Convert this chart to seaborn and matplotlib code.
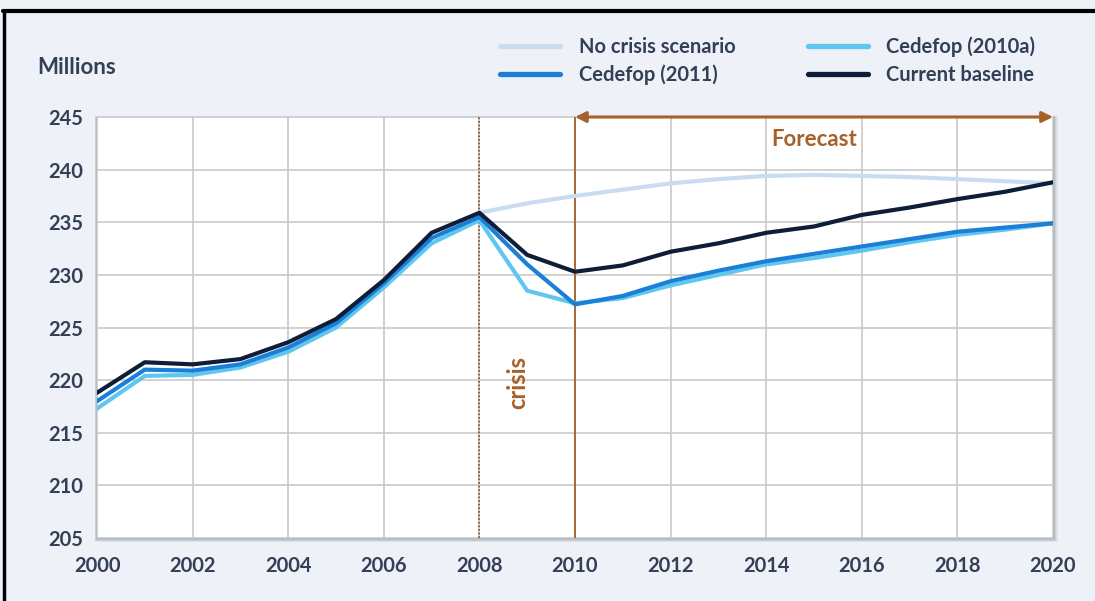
import numpy as np
import pandas as pd
import matplotlib
matplotlib.use("Agg")
import matplotlib.pyplot as plt
import seaborn as sns
from matplotlib.patches import Rectangle
from matplotlib.lines import Line2D

years = list(range(2000, 2021))
no_crisis = [None]*8 + [235.9, 236.8, 237.5, 238.1, 238.7, 239.1, 239.4, 239.5, 239.4, 239.3, 239.1, 238.9, 238.7]
cedefop_2010a = [217.3, 220.4, 220.5, 221.2, 222.7, 225.0, 228.8, 233.0, 235.2, 228.5, 227.3,
                 227.8, 229.0, 230.0, 231.0, 231.6, 232.3, 233.1, 233.8, 234.3, 234.9]
cedefop_2011 = [218.0, 221.0, 220.9, 221.5, 223.1, 225.4, 229.2, 233.5, 235.5, 231.0, 227.2,
                228.0, 229.4, 230.4, 231.3, 232.0, 232.7, 233.4, 234.1, 234.5, 234.9]
current_baseline = [218.8, 221.7, 221.5, 222.0, 223.6, 225.8, 229.5, 234.0, 235.9, 231.9, 230.3,
                    230.9, 232.2, 233.0, 234.0, 234.6, 235.7, 236.4, 237.2, 237.9, 238.8]
series_names = ["No crisis scenario", "Cedefop (2010a)", "Cedefop (2011)", "Current baseline"]
series_colors = ["#c9dcf0", "#5fc6ef", "#1b7fd8", "#0e1d38"]
x_ticks = list(range(2000, 2021, 2))
y_ticks = list(range(205, 246, 5))

rows = []
for name, vals in zip(series_names, [no_crisis, cedefop_2010a, cedefop_2011, current_baseline]):
    for y, v in zip(years, vals):
        if v is not None:
            rows.append({"year": y, "value": v, "series": name})
df = pd.DataFrame(rows)

sns.set_theme(style="white")
plt.rcParams['font.family'] = ['Lato', 'DejaVu Sans']
W = "bold"
txt = "#333f55"
bg = "#eef2f8"
fig = plt.figure(figsize=(10.95, 6.01), dpi=100, facecolor=bg)
ax = fig.add_axes([0.0886, 0.1048, 0.873, 0.7005])
ax.set_facecolor("white")

# soft shadow behind axes
for i, a in enumerate([0.25, 0.35, 0.5]):
    d = 0.004 - i * 0.0012
    fig.patches.append(Rectangle((0.0886 - d * 0.5, 0.1048 - d * 1.6), 0.873 + d * 1.6, 0.7005 + d * 2.0,
                                 transform=fig.transFigure, facecolor="#a9adb5",
                                 edgecolor="none", zorder=-5, alpha=a))
# black frame top and left
fig.add_artist(Line2D([0.003, 1.0], [0.982, 0.982], color="black", lw=3, transform=fig.transFigure))
fig.add_artist(Line2D([0.004, 0.004], [0.0, 0.982], color="black", lw=2.5, transform=fig.transFigure))

palette = dict(zip(series_names, series_colors))
sns.lineplot(data=df, x="year", y="value", hue="series", hue_order=series_names,
             palette=palette, linewidth=3.0, ax=ax, legend=False, zorder=3)

ax.set_xlim(2000, 2020)
ax.set_ylim(205, 245)
ax.set_xticks(x_ticks)
ax.set_yticks(y_ticks)
ax.grid(True, color="#c9c9c9", linewidth=1.2)
ax.set_axisbelow(True)
for s in ax.spines.values():
    s.set_visible(False)
ax.tick_params(axis="x", length=0, labelsize=14.5, labelcolor=txt, pad=13)
ax.tick_params(axis="y", length=0, labelsize=14.5, labelcolor=txt, pad=10)
for lab in ax.get_xticklabels() + ax.get_yticklabels():
    lab.set_fontweight(W)
ax.set_xlabel("")
ax.set_ylabel("")

brown = "#a6612a"
ax.axvline(2008, color="#8a5a30", linestyle=(0, (1, 1)), linewidth=1.3, zorder=2)
ax.axvline(2010, color=brown, linewidth=1.3, zorder=2)
ax.annotate("", xy=(2020, 245), xytext=(2010, 245),
            arrowprops=dict(arrowstyle="<|-|>", color=brown, lw=2.2, mutation_scale=16,
                            shrinkA=0, shrinkB=0), annotation_clip=False, zorder=5)
ax.text(2015, 242.9, "Forecast", color=brown, fontsize=16, fontweight=W,
        ha="center", va="center")
ax.text(2008.8, 219.8, "crisis", color=brown, fontsize=17, fontweight=W,
        rotation=90, ha="center", va="center")

fig.text(0.034, 0.887, "Millions", fontsize=16, fontweight=W, color=txt,
         ha="left", va="center")

handles = [Line2D([0], [0], color=c, lw=3.8) for c in series_colors]
order = [0, 2, 1, 3]
leg = fig.legend([handles[i] for i in order], [series_names[i] for i in order],
                 ncol=2, loc="upper left", bbox_to_anchor=(0.4566, 0.94),
                 frameon=False, fontsize=14.5, handlelength=3.0, columnspacing=3.6,
                 handletextpad=0.9, labelspacing=0.4, borderpad=0, borderaxespad=0)
for t in leg.get_texts():
    t.set_fontweight(W)
    t.set_color(txt)

fig.savefig("out.png", dpi=100, facecolor=bg)
